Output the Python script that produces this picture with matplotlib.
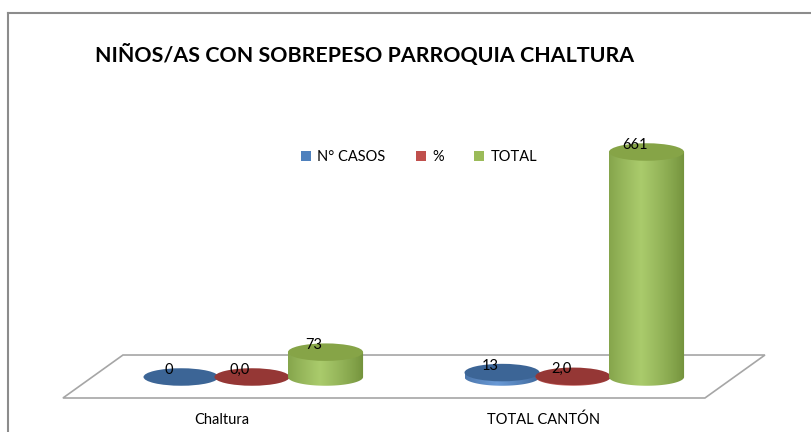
import numpy as np
import matplotlib
matplotlib.use("Agg")
import matplotlib.pyplot as plt
from matplotlib.patches import Ellipse, Polygon, Rectangle
from matplotlib.path import Path
from matplotlib.colors import LinearSegmentedColormap
import matplotlib.transforms as mtransforms

# data
categories = ["Chaltura", "TOTAL CANTÓN"]
series_names = ["N° CASOS", "%", "TOTAL"]
n_casos = [0, 13]
porcentaje = [0.0, 2.0]
total = [73, 661]
series_values = [n_casos, porcentaje, total]
label_fmt = ["{:.0f}", "{:.1f}", "{:.0f}"]

# colours: (side edge, side light, top)
side_dark = ["#3A6294", "#953735", "#71903A"]
side_light = ["#6A9AD6", "#D06A67", "#AACB6C"]
top_col = ["#3C6596", "#953735", "#86A447"]
legend_col = ["#4F81BD", "#C0504D", "#9BBB59"]

plt.rcParams['font.family'] = ['Lato', 'DejaVu Sans']

W, H = 812, 432
fig = plt.figure(figsize=(W / 100, H / 100), dpi=100)
ax = fig.add_axes([0, 0, 1, 1])
ax.set_axis_off()

# scales: x in category units, y in value units
px_per_cat = 321.0
px_per_val = 225.0 / 661
x0_px, y0_px = 252.0, 55.0
ax.set_xlim(-x0_px / px_per_cat, (W - x0_px) / px_per_cat)
ax.set_ylim(-y0_px / px_per_val, (H - y0_px) / px_per_val)

offsets = [-0.221, 0.0, 0.229]
bar_w = 0.234
ell_h = 17.5 / px_per_val

# floor
floor = Polygon([(-0.402, 64.6), (1.598, 64.6), (1.411, -61.7), (-0.589, -61.7)],
                closed=True, facecolor="white", edgecolor="#A6A6A6", lw=1.2, zorder=1)
ax.add_patch(floor)

# chart frame (top and left edges visible)
fig.add_artist(plt.Line2D([8 / W, 8 / W], [0, 1 - 12.5 / H], color="#8C8C8C", lw=1.5))
fig.add_artist(plt.Line2D([8 / W, 1], [1 - 12.5 / H, 1 - 12.5 / H], color="#8C8C8C", lw=1.5))

grad = np.linspace(0, 1, 256)
shade = np.clip(1 - np.abs(grad - 0.42) / 0.58, 0, 1) ** 0.8
img = shade[np.newaxis, :]

for i in range(len(categories)):
    for s, vals in enumerate(series_values):
        v = vals[i]
        cx = i + offsets[s]
        xl, xr = cx - bar_w / 2, cx + bar_w / 2
        a, b = bar_w / 2, ell_h / 2
        z = 3 + s
        if v > 0:
            th = np.linspace(0, -np.pi, 60)
            verts = [(xl, v), (xr, v)] + [(cx + a * np.cos(t), b * np.sin(t)) for t in th]
            verts.append((xl, v))
            cmap = LinearSegmentedColormap.from_list("c%d" % s, [side_dark[s], side_light[s]])
            im = ax.imshow(img, cmap=cmap, aspect="auto", extent=[xl, xr, -b, v],
                           interpolation="bilinear", zorder=z)
            patch = Polygon(verts, closed=True, facecolor="none", edgecolor="none")
            ax.add_patch(patch)
            im.set_clip_path(patch)
        ax.add_patch(Ellipse((cx, v), bar_w, ell_h, facecolor=top_col[s],
                             edgecolor="none", zorder=z + 0.5))
        txt = label_fmt[s].format(v).replace(".", ",")
        ax.text(cx - 12 / px_per_cat, v + 7 / px_per_val, txt, ha="center", va="center",
                fontsize=10.5, color="black", zorder=10)

# category labels
trans = mtransforms.blended_transform_factory(ax.transData, fig.transFigure)
for i, c in enumerate(categories):
    ax.text(i - 0.093, 1 - 420 / H, c, transform=trans, ha="center", va="center",
            fontsize=10.5, color="black")

fig.text(365 / W, 1 - 55 / H, "NIÑOS/AS CON SOBREPESO PARROQUIA CHALTURA",
         ha="center", va="center", fontsize=15.4, fontweight="bold")

handles = [Rectangle((0, 0), 1, 1, facecolor=c, edgecolor="none") for c in legend_col]
fig.legend(handles, series_names, loc="center", bbox_to_anchor=(419 / W, 1 - 157 / H),
           ncol=3, frameon=False, fontsize=10.5, handlelength=0.7, handleheight=0.7,
           handletextpad=0.4, columnspacing=2.1)

fig.savefig("out.png", dpi=100)
